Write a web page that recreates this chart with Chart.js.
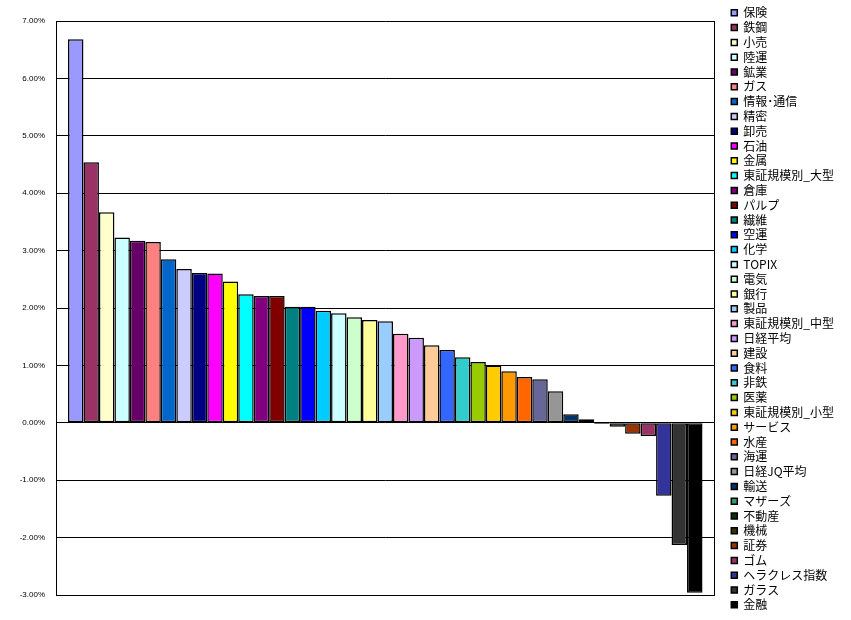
<!DOCTYPE html>
<html>
<head>
<meta charset="utf-8">
<script src="https://cdn.jsdelivr.net/npm/chart.js@4.4.0/dist/chart.umd.min.js"></script>
<style>
  body { margin: 0; background: #fff; }
</style>
</head>
<body>
<canvas id="sectorChart" width="851" height="620"></canvas>
<script>
// one series per sector, sorted by change (%)
const sectors = [
  '保険', '鉄鋼', '小売', '陸運', '鉱業', 'ガス', '情報･通信', '精密', '卸売', '石油',
  '金属', '東証規模別_大型', '倉庫', 'パルプ', '繊維', '空運', '化学', 'TOPIX', '電気', '銀行',
  '製品', '東証規模別_中型', '日経平均', '建設', '食料', '非鉄', '医薬', '東証規模別_小型', 'サービス', '水産',
  '海運', '日経JQ平均', '輸送', 'マザーズ', '不動産', '機械', '証券', 'ゴム', 'ヘラクレス指数', 'ガラス',
  '金融'
];
const changes = [
  6.68, 4.54, 3.67, 3.23, 3.17, 3.15, 2.85, 2.68, 2.61, 2.60,
  2.46, 2.24, 2.21, 2.21, 2.02, 2.02, 1.95, 1.91, 1.84, 1.79,
  1.77, 1.55, 1.48, 1.35, 1.27, 1.14, 1.06, 1.00, 0.90, 0.80,
  0.76, 0.55, 0.15, 0.06, -0.02, -0.07, -0.19, -0.23, -1.27, -2.13,
  -2.96
];
const colors = [
  '#9999FF', '#993366', '#FFFFCC', '#CCFFFF', '#660066', '#FF8080', '#0066CC', '#CCCCFF', '#000080', '#FF00FF',
  '#FFFF00', '#00FFFF', '#800080', '#800000', '#008080', '#0000FF', '#00CCFF', '#CCFFFF', '#CCFFCC', '#FFFF99',
  '#99CCFF', '#FF99CC', '#CC99FF', '#FFCC99', '#3366FF', '#33CCCC', '#99CC00', '#FFCC00', '#FF9900', '#FF6600',
  '#666699', '#969696', '#003366', '#339966', '#003300', '#333300', '#993300', '#993366', '#333399', '#333333',
  '#000000'
];
const yMin = -3;
const yMax = 7;
const yStep = 1;

const datasets = sectors.map(function (name, i) {
    return {
        label: name,
        data: [changes[i]],
        backgroundColor: colors[i],
        borderColor: '#000',
        borderWidth: 1.5,
        borderSkipped: false
    };
});

new Chart(document.getElementById('sectorChart'), {
    type: 'bar',
    data: {
        labels: [''],
        datasets: datasets
    },
    options: {
        responsive: false,
        animation: false,
        layout: {
            padding: { top: 4, bottom: 2, left: 0, right: 7 }
        },
        datasets: {
            bar: {
                categoryPercentage: 0.9636,
                barPercentage: 1
            }
        },
        scales: {
            x: {
                position: 'bottom',
                grid: { display: false, drawTicks: false },
                ticks: { display: false },
                border: { display: true, color: '#000' },
                afterFit: function (s) { s.height = 23; }
            },
            xTop: {
                axis: 'x',
                type: 'category',
                labels: [''],
                position: 'top',
                grid: { display: false, drawTicks: false },
                ticks: { display: false },
                border: { display: false },
                afterFit: function (s) { s.height = 17; }
            },
            y: {
                min: yMin,
                max: yMax,
                ticks: {
                    stepSize: yStep,
                    padding: 11,
                    color: '#000',
                    font: { size: 8, family: "'Liberation Sans', Arial, sans-serif" },
                    callback: function (v) { return v.toFixed(2) + '%'; }
                },
                grid: { color: '#000', lineWidth: 1, drawTicks: false },
                border: { display: true, color: '#000' },
                afterFit: function (s) { s.width = 56; }
            },
            yRight: {
                axis: 'y',
                type: 'linear',
                position: 'right',
                grid: { display: false, drawTicks: false },
                ticks: { display: false },
                border: { display: true, color: '#000' },
                afterFit: function (s) { s.width = 14; }
            }
        },
        plugins: {
            legend: {
                position: 'right',
                align: 'start',
                labels: {
                    boxWidth: 6,
                    boxHeight: 6,
                    padding: 2.8,
                    color: '#000',
                    font: { size: 12, family: "'Noto Sans CJK JP', sans-serif" }
                }
            },
            tooltip: { enabled: false }
        }
    }
});
</script>
</body>
</html>
